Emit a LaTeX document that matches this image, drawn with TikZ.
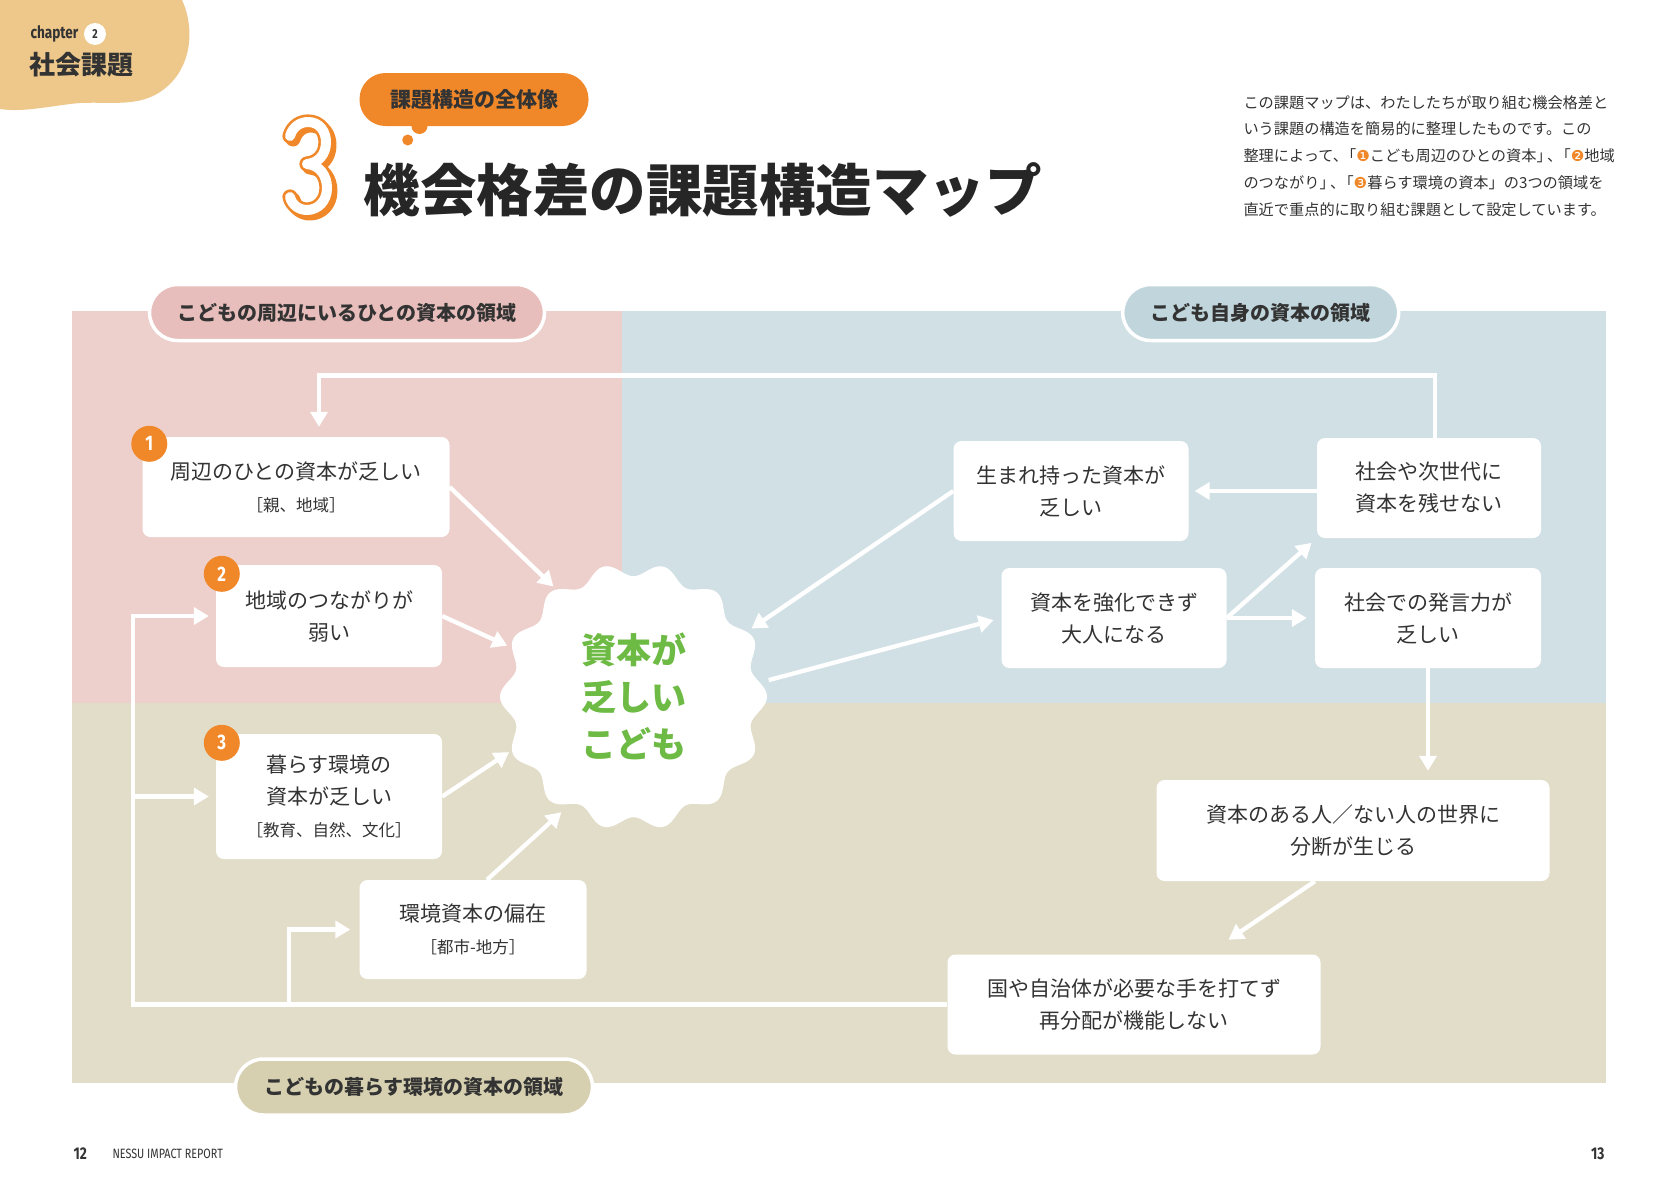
\documentclass[tikz,border=0pt]{standalone}
\usepackage{fontspec}
\setmainfont{Noto Sans CJK JP}
\newfontfamily\symfont{DejaVu Sans}
\newfontfamily\narrowfont[FakeStretch=0.8]{Fira Sans}
\usetikzlibrary{arrows.meta,positioning,calc}
\definecolor{mapPink}{HTML}{EDD0CC}
\definecolor{mapBlue}{HTML}{D1E0E5}
\definecolor{mapTan}{HTML}{E2DDC9}
\definecolor{pillPink}{HTML}{E7BEBB}
\definecolor{pillBlue}{HTML}{C1D6DC}
\definecolor{pillTan}{HTML}{D6D0B0}
\definecolor{mapOrange}{HTML}{F0882A}
\definecolor{mapSand}{HTML}{EDC88A}
\definecolor{mapGreen}{HTML}{6DBA44}
\definecolor{mapInk}{HTML}{333333}
\newcommand{\fsz}[2]{\fontsize{#1}{#2}\selectfont}
\newcommand{\numdot}[1]{{\symfont\textcolor{mapOrange}{#1}}}
\newcommand{\tkn}{\kern-0.45em}

\begin{document}
\begin{tikzpicture}[x=1pt,y=-1pt,font=\fsz{21}{32},text=mapInk,
    box/.style={fill=white,rounded corners=8pt,align=center,inner sep=0pt},
    pill/.style={draw=white,line width=3.5pt,rounded corners=28pt,
                 font=\bfseries\fsz{20}{24},inner sep=0pt,minimum height=56pt},
    badge/.style={circle,fill=mapOrange,text=white,inner sep=0pt,
                  minimum size=36pt,font=\narrowfont\bfseries\fsz{21}{21}},
    arr/.style={draw=white,line width=4.3pt,-{Triangle[length=15pt,width=17pt]}}]
  \useasboundingbox (0,0) rectangle (1678,1191);
  \fill[white] (0,0) rectangle (1678,1191);
  % header
  \fill[mapSand] (0,0) -- (182,0) .. controls (196,30) and (192,75) .. (155,95)
    .. controls (130,108) and (100,100) .. (70,104)
    .. controls (40,108) and (20,112) .. (0,109) -- cycle;
  \node[anchor=west,font=\narrowfont\bfseries\fsz{17}{17}] (chap) at (27,34) {chapter};
  \node[circle,fill=white,inner sep=0pt,minimum size=22pt,
        font=\narrowfont\bfseries\fsz{13}{13}] (chapno) at (95,34) {2};
  \node[anchor=west,font=\bfseries\fsz{26}{30}] (chapttl) at (26,65) {社会課題};
  \fill[mapOrange] (419.5,126) circle (8pt);
  \fill[mapOrange] (407.7,140) circle (5.5pt);
  \node[fill=mapOrange,rounded corners=26pt,minimum width=229pt,minimum height=53pt,
        font=\bfseries\fsz{21}{24}] (kicker) at (474,99.5) {課題構造の全体像};
  \draw[mapOrange,line width=15pt,line cap=round,line join=round,shift={(3,3)}]
    (290,136) .. controls (293,126) and (301,122) .. (308,122)
    .. controls (320,122) and (326,132) .. (326,142)
    .. controls (326,155) and (318,163) .. (307,164)
    .. controls (320,165) and (327,176) .. (327,188)
    .. controls (327,201) and (318,210) .. (307,210)
    .. controls (299,210) and (292,205) .. (290,197);
  \draw[mapOrange,line width=2.6pt,double=white,double distance=10pt,
        line cap=round,line join=round]
    (290,136) .. controls (293,126) and (301,122) .. (308,122)
    .. controls (320,122) and (326,132) .. (326,142)
    .. controls (326,155) and (318,163) .. (307,164)
    .. controls (320,165) and (327,176) .. (327,188)
    .. controls (327,201) and (318,210) .. (307,210)
    .. controls (299,210) and (292,205) .. (290,197);
  \node[anchor=west,font=\bfseries\fsz{56.5}{60},text=black!85] (title) at (360,190)
    {機会格差の課題構造マップ};
  \node[anchor=west,align=left,font=\fsz{15.2}{26.8}] (intro) at (1240,156)
    {この課題マップは、わたしたちが取り組む機会格差と\\
     いう課題の構造を簡易的に整理したものです。この\\
     整理によって、\tkn「\numdot{❶}こども周辺のひとの資本」\kern-0.3em、\tkn「\numdot{❷}地域\\
     のつながり」\kern-0.3em、\tkn「\numdot{❸}暮らす環境の資本」の3つの領域を\\
     直近で重点的に取り組む課題として設定しています。};
  % areas
  \fill[mapPink] (71.7,311.4) rectangle (621.8,703);
  \fill[mapBlue] (621.8,311.4) rectangle (1606,703);
  \fill[mapTan] (71.7,703) rectangle (1606,1083);
  \node[pill,fill=pillPink,minimum width=395pt] (pP) at (347,312.5)
    {こどもの周辺にいるひとの資本の領域};
  \node[pill,fill=pillBlue,minimum width=276pt] (pB) at (1260.7,312.5)
    {こども自身の資本の領域};
  \node[pill,fill=pillTan,minimum width=357pt] (pT) at (414,1087)
    {こどもの暮らす環境の資本の領域};
  % center
  \fill[white,shift={(633.5,696.7)}]
    plot[domain=0:360,samples=281] (\x:{127+6.5*cos(14*\x)}) -- cycle;
  \node[circle,minimum size=272pt,inner sep=0pt,align=center,
        font=\bfseries\fsz{35}{47},text=mapGreen] (core) at (633.5,696.7)
    {資本が\\乏しい\\こども};
  % boxes
  \node[box,minimum width=307pt,minimum height=100pt] (b1) at (296,487)
    {周辺のひとの資本が乏しい\\{\fsz{16.5}{20}［親、地域］}};
  \node[box,minimum width=226pt,minimum height=102pt] (b2) at (329,616)
    {地域のつながりが\\弱い};
  \node[box,minimum width=226pt,minimum height=125pt] (b3) at (329,796.5)
    {暮らす環境の\\資本が乏しい\\{\fsz{16.5}{20}［教育、自然、文化］}};
  \node[box,minimum width=227pt,minimum height=99pt] (b4) at (473,929.5)
    {環境資本の偏在\\{\fsz{16.5}{20}［都市-地方］}};
  \node[box,minimum width=235pt,minimum height=100pt] (b5) at (1071,491)
    {生まれ持った資本が\\乏しい};
  \node[box,minimum width=224pt,minimum height=100pt] (b6) at (1429,488)
    {社会や次世代に\\資本を残せない};
  \node[box,minimum width=225pt,minimum height=100pt] (b7) at (1114,618)
    {資本を強化できず\\大人になる};
  \node[box,minimum width=226pt,minimum height=100pt] (b8) at (1428,618)
    {社会での発言力が\\乏しい};
  \node[box,minimum width=393pt,minimum height=101pt] (b9) at (1353,830.5)
    {資本のある人／ない人の世界に\\分断が生じる};
  \node[box,minimum width=373pt,minimum height=100pt] (b10) at (1134,1004.5)
    {国や自治体が必要な手を打てず\\再分配が機能しない};
  \node[badge] (n1) at ([shift={(7,7)}]b1.north west) {1};
  \node[badge] (n2) at ([shift={(6,9)}]b2.north west) {2};
  \node[badge] (n3) at ([shift={(6,9)}]b3.north west) {3};
  % arrows
  \coordinate (loopx) at (132.7,800);
  \coordinate (forkx) at (289,1000);
  \coordinate (topy) at (319,375.6);
  \draw[arr] (b1.east) -- (core.126);
  \draw[arr] (b2.east) -- (core.158);
  \draw[arr] (b3.east) -- (core.204);
  \draw[arr] ([xshift=14pt]b4.north) -- (core.238);
  \draw[arr] (b5.west) -- (core.30);
  \draw[arr,shorten >=8pt] (core.7) -- (b7.west);
  \draw[arr,shorten >=6pt] (b6.west |- b5.east) -- (b5.east);
  \draw[arr,shorten >=7pt] (b7.east) -- (b6.south west);
  \draw[arr,shorten >=8pt] (b7.east) -- (b8.west);
  \draw[arr,shorten >=9pt] (b8.south) -- (b8.south |- b9.north);
  \draw[arr,shorten >=26pt] ([xshift=-38pt]b9.south) -- ([xshift=73pt]b10.north);
  \draw[arr,shorten >=7pt] (b10.west) -| (loopx) |- (b2.west);
  \draw[arr,shorten >=7pt] (loopx |- b3.west) -- (b3.west);
  \draw[arr,shorten >=9pt] (b10.west -| forkx) |- (b4.west);
  \draw[arr,shorten >=10pt] ([xshift=6pt]b6.north) |- (topy) -- (topy |- b1.north);
  % footer
  \node[anchor=west,font=\narrowfont\bfseries\fsz{17}{17}] (pgl) at (70,1154) {12};
  \node[anchor=west,font=\narrowfont\fsz{13.5}{14}] (report) at (109,1154)
    {NESSU IMPACT REPORT};
  \node[anchor=east,font=\narrowfont\bfseries\fsz{17}{17}] (pgr) at (1608,1154) {13};
\end{tikzpicture}
\end{document}
